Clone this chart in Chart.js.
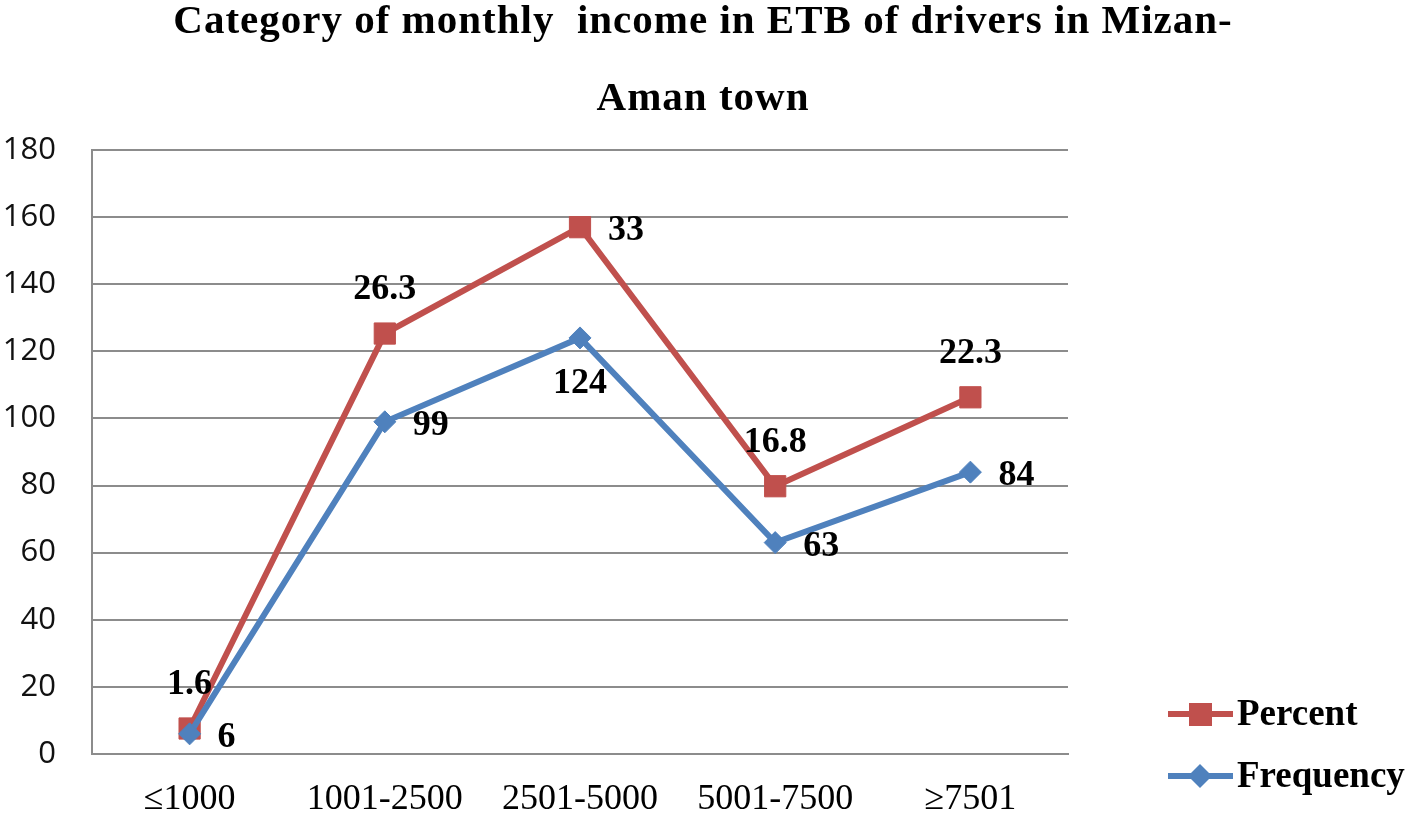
<!DOCTYPE html>
<html>
<head>
<meta charset="utf-8">
<script src="https://cdn.jsdelivr.net/npm/chart.js@4"></script>
<style>
  html, body { margin: 0; padding: 0; background: #fff; }
  #wrap { width: 1417px; height: 821px; }
</style>
</head>
<body>
<div id="wrap"><canvas id="chart" width="1417" height="821"></canvas></div>
<script>
// Data
const categories = ['\u22641000', '1001-2500', '2501-5000', '5001-7500', '\u22657501'];
const frequency = [6, 99, 124, 63, 84];
const percent = [1.6, 26.3, 33, 16.8, 22.3];
const yTicks = [0, 20, 40, 60, 80, 100, 120, 140, 160, 180];
const titleLines = ['Category of monthly  income in ETB of drivers in Mizan-', 'Aman town'];

// where each value label sits relative to its point
const percentLabelPos = ['above', 'above', 'right', 'above', 'above'];
const frequencyLabelPos = ['right', 'right', 'below', 'right', 'right'];

const RED = '#C0504D';
const BLUE = '#4F81BD';
const GRID = '#8c8c8c';
const SERIF = '"Liberation Serif", "Times New Roman", serif';

// title is centred on the whole picture, not on the plot
const pageTitle = {
    id: 'pageTitle',
    afterDraw(chart) {
        const ctx = chart.ctx;
        ctx.save();
        ctx.font = 'bold 41px ' + SERIF;
        ctx.fillStyle = '#000';
        ctx.textAlign = 'center';
        ctx.textBaseline = 'alphabetic';
        ctx.letterSpacing = '1px';
        ctx.fillText(titleLines[0], 703, 33);
        ctx.fillText(titleLines[1], 703, 110);
        ctx.restore();
    }
};

// draws the numbers next to the points
const valueLabels = {
    id: 'valueLabels',
    afterDatasetsDraw(chart) {
        const ctx = chart.ctx;
        ctx.save();
        ctx.font = 'bold 36px ' + SERIF;
        ctx.fillStyle = '#000';
        ctx.textBaseline = 'middle';
        chart.data.datasets.forEach((ds, di) => {
            const meta = chart.getDatasetMeta(di);
            meta.data.forEach((pt, i) => {
                const pos = ds.labelPos[i];
                let x = pt.x, y = pt.y;
                if (pos === 'above') { ctx.textAlign = 'center'; y -= 44; }
                else if (pos === 'below') { ctx.textAlign = 'center'; y += 46; }
                else { ctx.textAlign = 'left'; x += 28; y += 4; }
                ctx.fillText(String(ds.data[i]), x, y);
            });
        });
        ctx.restore();
    }
};

// Excel style legend: line with a marker through it
const sideLegend = {
    id: 'sideLegend',
    afterDraw(chart) {
        const ctx = chart.ctx;
        const items = chart.data.datasets.slice().reverse();
        const rows = [714, 776];
        ctx.save();
        items.forEach((ds, i) => {
            const y = rows[i];
            ctx.strokeStyle = ds.borderColor;
            ctx.lineWidth = 6;
            ctx.beginPath();
            ctx.moveTo(1168, y);
            ctx.lineTo(1233, y);
            ctx.stroke();
            ctx.fillStyle = ds.backgroundColor;
            ctx.beginPath();
            if (ds.pointStyle === 'rect') {
                ctx.rect(1189, y - 11, 23, 23);
            } else {
                ctx.moveTo(1200, y - 12);
                ctx.lineTo(1212, y);
                ctx.lineTo(1200, y + 12);
                ctx.lineTo(1188, y);
                ctx.closePath();
            }
            ctx.fill();
            ctx.fillStyle = '#000';
            ctx.font = 'bold 37px ' + SERIF;
            ctx.textAlign = 'left';
            ctx.textBaseline = 'middle';
            ctx.fillText(ds.label, 1237, y + 1);
        });
        ctx.restore();
    }
};

new Chart(document.getElementById('chart'), {
    type: 'line',
    data: {
        labels: categories,
        datasets: [
            {
                label: 'Frequency',
                data: frequency,
                labelPos: frequencyLabelPos,
                borderColor: BLUE,
                backgroundColor: BLUE,
                borderWidth: 6,
                pointStyle: 'rectRot',
                pointRadius: 11,
                pointBorderWidth: 1,
                stack: 's'
            },
            {
                label: 'Percent',
                data: percent,
                labelPos: percentLabelPos,
                borderColor: RED,
                backgroundColor: RED,
                borderWidth: 6,
                pointStyle: 'rect',
                pointRadius: 15,
                pointBorderWidth: 1,
                stack: 's'
            }
        ]
    },
    options: {
        responsive: false,
        animation: false,
        layout: { padding: { left: 0, right: 349, top: 150, bottom: 0 } },
        plugins: {
            legend: { display: false },
            tooltip: { enabled: false },
            title: { display: false }
        },
        scales: {
            x: {
                offset: true,
                grid: { display: false, drawTicks: false },
                border: { display: true, color: GRID, width: 2 },
                ticks: { color: '#000', padding: 24, font: { family: SERIF, size: 36 } },
                afterFit: (s) => { s.height = 67; }
            },
            y: {
                stacked: true,
                min: 0,
                max: 180,
                afterBuildTicks: (s) => { s.ticks = yTicks.map(v => ({ value: v })); },
                grid: { color: GRID, lineWidth: 2, drawTicks: false },
                border: { display: true, color: GRID, width: 2 },
                ticks: { color: '#111', padding: 36, font: { family: '"Open Sans", sans-serif', size: 31 } },
                afterFit: (s) => { s.width = 92; }
            }
        }
    },
    plugins: [pageTitle, valueLabels, sideLegend]
});
</script>
</body>
</html>
